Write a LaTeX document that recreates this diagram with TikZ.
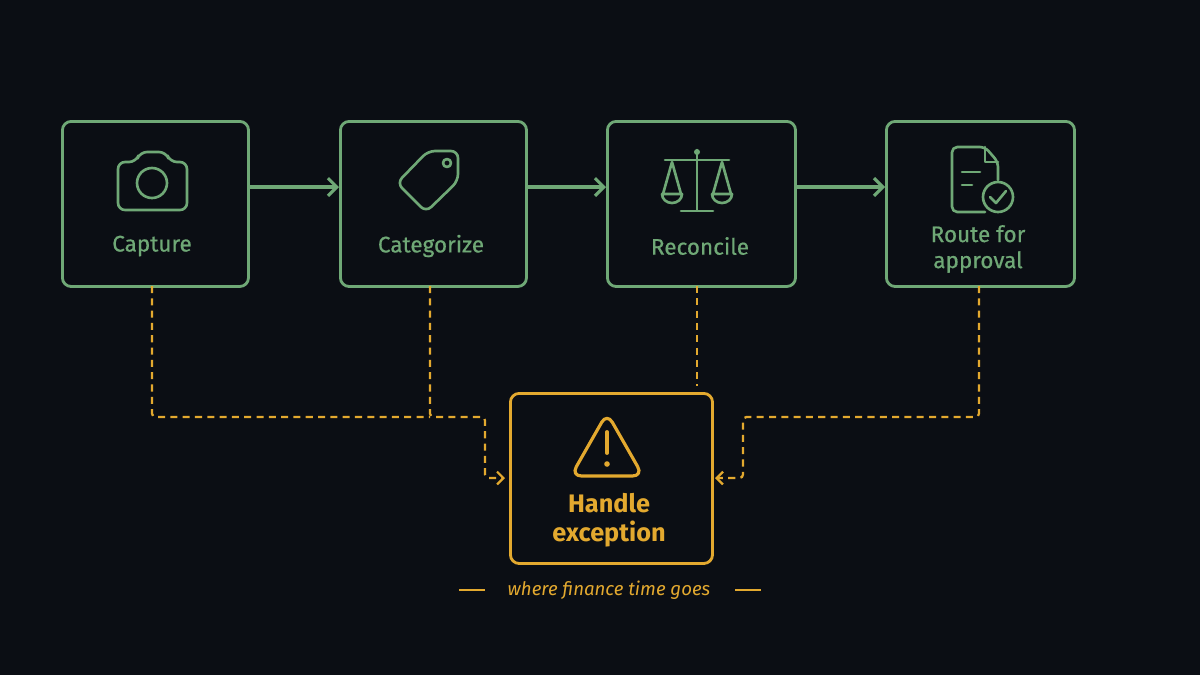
\documentclass[tikz,border=0pt]{standalone}
\usepackage{fontspec}
\setmainfont{Fira Sans}
\usetikzlibrary{arrows.meta}
\definecolor{bgcol}{HTML}{0B0E14}
\definecolor{stepgreen}{HTML}{6FA876}
\definecolor{excorange}{HTML}{E3A92F}
\tikzset{
  stepbox/.style={draw=stepgreen, line width=0.8pt, rounded corners=2.5pt, minimum width=1.86cm, minimum height=1.65cm, anchor=north west},
  steplabel/.style={text=stepgreen, font=\fontsize{6.4}{7.4}\selectfont\addfontfeature{FakeBold=0.6}, align=center},
  icon/.style={draw=stepgreen, line width=0.75pt, line join=round, line cap=round},
  flow/.style={draw=stepgreen, line width=0.9pt, -{Straight Barb[length=2.5pt,width=5pt]}},
  excflow/.style={draw=excorange, line width=0.65pt, dash pattern=on 2pt off 1.5pt, rounded corners=1pt},
  excarrow/.style={excflow, -{Straight Barb[length=1.8pt,width=3.6pt]}},
}
\begin{document}
\begin{tikzpicture}[x=0.01cm, y=-0.01cm]
  \fill[bgcol] (0,0) rectangle (1200,675);
  \useasboundingbox (0,0) rectangle (1200,675);
  % steps
  \node[stepbox] (capture)    at (61,120)  {};
  \node[stepbox] (categorize) at (339,120) {};
  \node[stepbox, minimum width=1.88cm] (reconcile)  at (606,120) {};
  \node[stepbox, minimum width=1.88cm] (route)      at (885,120) {};
  \node[stepbox, draw=excorange, minimum width=2.02cm, minimum height=1.70cm] (exception) at (509,392) {};
  \node[steplabel] (capturelbl)    at (152,246) {Capture};
  \node[steplabel] (categorizelbl) at (431,246) {Categorize};
  \node[steplabel] (reconcilelbl)  at (700,246) {Reconcile};
  \node[steplabel] (routelbl) at (978,249) {Route for\\approval};
  \node[steplabel, text=excorange, font=\fontsize{7.2}{8.3}\selectfont\bfseries] (exceptionlbl) at (609,520) {Handle\\exception};
  \node[text=excorange, font=\fontsize{5.3}{6}\selectfont\itshape] (caption) at (609,590) {where finance time goes};
  \draw[excorange, line width=0.5pt] (459,590) -- (485,590) (735,590) -- (761,590);
  % main flow
  \draw[flow] (capture.east |- 0,187) -- (categorize.west |- 0,187);
  \draw[flow] (categorize.east |- 0,187) -- (reconcile.west |- 0,187);
  \draw[flow] (reconcile.east |- 0,187) -- (route.west |- 0,187);
  % exceptions
  \coordinate (inleft)  at (505,478);
  \coordinate (inright) at (715,478);
  \draw[excflow] (152,286) -- (152,417) -- (430,417);
  \draw[excarrow] (430,286) -- (430,417) -- (485,417) -- (485,478) -- (inleft);
  \draw[excflow] (697,286) -- (697,386);
  \draw[excarrow] (979,286) -- (979,417) -- (743,417) -- (743,478) -- (inright);
  % camera
  \draw[icon, rounded corners=2pt] (118,210) -- (118,162) -- (136,162) -- (140,152) -- (166,152) -- (170,162) -- (187,162) -- (187,210) -- cycle;
  \draw[icon] (152,183) circle (15);
  % tag
  \draw[icon, rounded corners=2pt] (428,151) -- (458,151) -- (458,181) -- (426,212) -- (397,183) -- cycle;
  \draw[icon] (447,163) circle (4);
  % scales
  \draw[icon] (697,150) -- (697,210) (681,211) -- (713,211) (665,160) -- (729,160);
  \fill[stepgreen] (697,152) circle (3);
  \foreach \px in {672,722} {
    \draw[icon] (\px,162) -- (\px-9,194) (\px,162) -- (\px+9,194);
    \draw[icon] (\px-10,194) -- (\px+10,194) arc[start angle=0, end angle=180, x radius=10, y radius=9];
  }
  % document with check
  \draw[icon, rounded corners=1.5pt] (985,212) -- (952,212) -- (952,147) -- (985,147) -- (998,162) -- (998,180);
  \draw[icon] (985,147) -- (985,162) -- (998,162);
  \draw[icon] (962,172) -- (980,172) (962,185) -- (972,185);
  \draw[icon] (998,197) circle (15);
  \draw[icon] (990,197) -- (996,203) -- (1006,191);
  % warning
  \draw[excorange, line width=0.9pt, line join=round, rounded corners=3pt] (607,413) -- (643,476) -- (571,476) -- cycle;
  \draw[excorange, line width=1.1pt, line cap=round] (607,432) -- (607,453);
  \fill[excorange] (607,464) circle (2.8);
\end{tikzpicture}
\end{document}
